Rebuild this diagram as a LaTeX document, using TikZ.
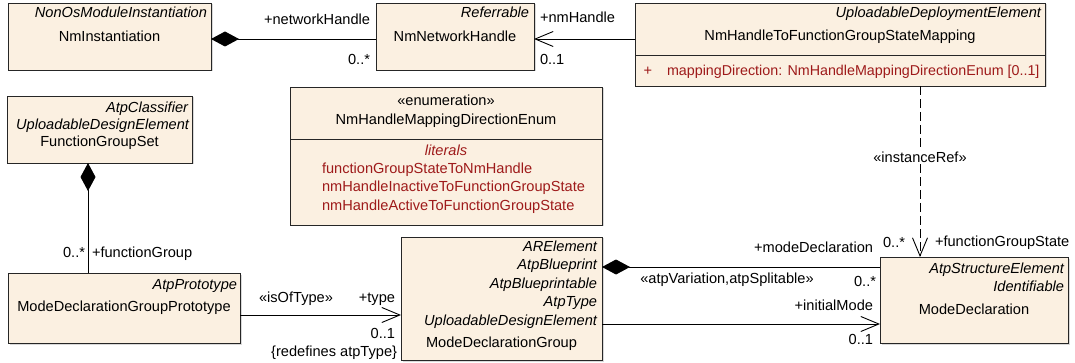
\documentclass[tikz,border=0pt]{standalone}
\usepackage{fontspec}
\setmainfont{Liberation Sans}
\usetikzlibrary{arrows.meta,shadows}
\definecolor{boxfill}{HTML}{FBF0E1}
\definecolor{litred}{HTML}{9E1A1A}
\begin{document}
\begin{tikzpicture}[x=1pt,y=-1pt,
  umlbox/.style={draw=black!85, line width=0.9pt, fill=boxfill, inner sep=0pt, outer sep=0pt,
    drop shadow={shadow xshift=1.5pt, shadow yshift=-1.5pt, opacity=0.3}},
  sepline/.style={draw=black!85, line width=0.9pt},
  t/.style={inner sep=0pt, outer sep=0pt, font=\fontsize{14.6}{17}\selectfont, anchor=mid},
  tr/.style={t, anchor=mid east},
  tl/.style={t, anchor=mid west},
  ti/.style={tr, font=\fontsize{14.6}{17}\selectfont\itshape},
  lit/.style={text=litred},
  conn/.style={line width=0.9pt, draw=black},
  comp/.style={conn, {Diamond[length=28pt,width=15pt]}-},
  nav/.style={conn, -{Straight Barb[length=18pt,width=15pt]}},
  dashedref/.style={dash pattern=on 9pt off 4pt},
]
\useasboundingbox (0,0) rectangle (1075,363);

% ---------- boxes ----------
\node[umlbox, minimum width=203pt, minimum height=67pt] (nmi) at (109.5,36.5) {};
\node[umlbox, minimum width=158pt, minimum height=67pt] (nnh) at (455,36.5) {};
\node[umlbox, minimum width=410pt, minimum height=83pt] (map) at (840,44.5) {};
\node[umlbox, minimum width=185pt, minimum height=67pt] (fgs) at (99.5,129.5) {};
\node[umlbox, minimum width=312pt, minimum height=138pt] (enum) at (446,156) {};
\node[umlbox, minimum width=232pt, minimum height=70pt] (mdgp) at (124,308) {};
\node[umlbox, minimum width=201pt, minimum height=123pt] (mdg) at (501.5,298.5) {};
\node[umlbox, minimum width=188pt, minimum height=86pt] (md) at (974,300) {};

\draw[sepline] ([yshift=-52pt]map.north west) -- ([yshift=-52pt]map.north east);
\draw[sepline] ([yshift=-52pt]enum.north west) -- ([yshift=-52pt]enum.north east);

% ---------- box texts ----------
\node[ti] (nmiS) at (207,15) {NonOsModuleInstantiation};
\node[t] (nmiN) at (109.5,39) {NmInstantiation};

\node[ti] (nnhS) at (529,15) {Referrable};
\node[t] (nnhN) at (455,39) {NmNetworkHandle};

\node[ti] (mapS) at (1041,15) {UploadableDeploymentElement};
\node[t] (mapN) at (840,38) {NmHandleToFunctionGroupStateMapping};
\node[t, lit] (mapP) at (648,73) {+};
\node[tl, lit, font=\fontsize{14.3}{17}\selectfont] (mapA) at (667,73) {mappingDirection: NmHandleMappingDirectionEnum [0..1]};

\node[ti] (fgsS1) at (188,110) {AtpClassifier};
\node[ti] (fgsS2) at (189,127) {UploadableDesignElement};
\node[t] (fgsN) at (99.5,144) {FunctionGroupSet};

\node[t] (enumS) at (446,103) {«enumeration»};
\node[t] (enumN) at (446,122) {NmHandleMappingDirectionEnum};
\node[t, lit, font=\fontsize{14.6}{17}\selectfont\itshape] (enumL) at (446,153) {literals};
\node[tl, lit] (enumL1) at (322,171) {functionGroupStateToNmHandle};
\node[tl, lit] (enumL2) at (322,189) {nmHandleInactiveToFunctionGroupState};
\node[tl, lit] (enumL3) at (322,208) {nmHandleActiveToFunctionGroupState};

\node[ti] (mdgpS) at (237,287) {AtpPrototype};
\node[t] (mdgpN) at (124,309) {ModeDeclarationGroupPrototype};

\node[ti] (mdgS1) at (597,249) {ARElement};
\node[ti] (mdgS2) at (597,267) {AtpBlueprint};
\node[ti] (mdgS3) at (597,286) {AtpBlueprintable};
\node[ti] (mdgS4) at (597,304) {AtpType};
\node[ti] (mdgS5) at (597,323) {UploadableDesignElement};
\node[t] (mdgN) at (501.5,345) {ModeDeclarationGroup};

\node[ti] (mdS1) at (1064,271) {AtpStructureElement};
\node[ti] (mdS2) at (1064,289) {Identifiable};
\node[t] (mdN) at (974,312) {ModeDeclaration};

% ---------- connectors ----------
\draw[comp] ([yshift=-2.5pt]nmi.east) -- ([yshift=-2.5pt]nnh.west);
\draw[nav] ([yshift=5.5pt]map.west) -- ([yshift=-2.5pt]nnh.east);
\draw[nav, dashedref] ([xshift=80pt]map.south) -- ([xshift=-54pt]md.north);
\draw[comp] ([xshift=-11.5pt]fgs.south) -- ([xshift=-36pt]mdgp.north);
\draw[nav] ([yshift=-7pt]mdgp.east) -- ([yshift=-16.5pt]mdg.west);
\draw[comp] ([yshift=31.5pt]mdg.east) -- ([yshift=33pt]md.west);
\draw[nav] ([yshift=-25.5pt]mdg.east) -- ([yshift=-24pt]md.west);

% ---------- connector labels ----------
\node[tr] (l1a) at (370,22) {+networkHandle};
\node[tr] (l1b) at (370,62) {0..*};
\node[tl] (l2a) at (540,20) {+nmHandle};
\node[tl] (l2b) at (540,62) {0..1};
\node[t, fill=white, inner sep=1.5pt] (l3s) at (920,160) {«instanceRef»};
\node[tr] (l3a) at (905,245) {0..*};
\node[tl] (l3b) at (935,244) {+functionGroupState};
\node[tr] (l4a) at (85,255) {0..*};
\node[tl] (l4b) at (92,255) {+functionGroup};
\node[t] (l5s) at (296,300) {«isOfType»};
\node[tr] (l5a) at (395,300) {+type};
\node[tr] (l5b) at (395,336) {0..1};
\node[tr] (l5c) at (397,354) {\{redefines atpType\}};
\node[tr] (l6a) at (873,250) {+modeDeclaration};
\node[tr] (l6b) at (876,284) {0..*};
\node[t] (l6s) at (727,281) {«atpVariation,atpSplitable»};
\node[tr] (l7a) at (873,308) {+initialMode};
\node[tr] (l7b) at (873,342) {0..1};
\end{tikzpicture}
\end{document}
